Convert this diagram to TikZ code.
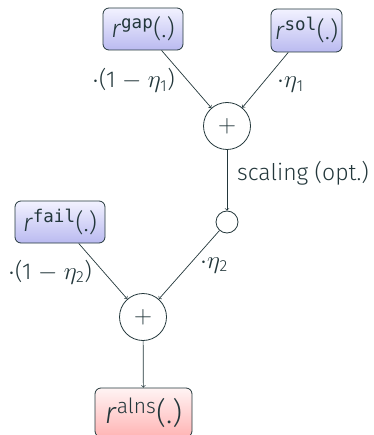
\documentclass[tikz,border=0pt]{standalone}
\usepackage{fontspec}
\setmainfont{Fira Sans Light}[ItalicFont={Fira Sans Light Italic}]
\newfontfamily\monof{DejaVu Sans Mono}
\definecolor{linec}{HTML}{23373B}
\definecolor{boxtop}{HTML}{F2F2FF}
\definecolor{boxbot}{HTML}{BABAF0}
\definecolor{pinktop}{HTML}{FFF4F4}
\definecolor{pinkbot}{HTML}{FFB4B4}
\tikzset{
  box/.style={draw=linec, rounded corners=6pt, line width=0.8pt, inner sep=0pt,
    text=linec, font=\fontsize{25}{29}\selectfont},
  bluebox/.style={box, top color=boxtop, bottom color=boxbot},
  pinkbox/.style={box, top color=pinktop, bottom color=pinkbot, font=\fontsize{30}{35}\selectfont},
  op/.style={circle, draw=linec, line width=0.8pt, inner sep=0pt, text=linec,
    font=\fontsize{23}{27}\selectfont},
  lbl/.style={inner sep=0pt, text=linec, font=\fontsize{23}{27}\selectfont, anchor=base west},
  arr/.style={->, draw=linec, line width=0.7pt}
}
\newcommand\etasub[1]{$\eta$\kern-0.5pt\textsubscript{#1}}
\begin{document}
\begin{tikzpicture}[x=1pt,y=1pt]
\useasboundingbox (0,0) rectangle (373,-435);
\node[bluebox, minimum width=80pt, minimum height=42pt] (gap) at (143,-29) {\textit{r}\textsuperscript{\monof gap}(.)};
\node[bluebox, minimum width=71pt, minimum height=43pt] (sol) at (306.5,-30.5) {\textit{r}\textsuperscript{\monof sol}(.)};
\node[bluebox, minimum width=90pt, minimum height=42pt] (fail) at (60,-222) {\textit{r}\textsuperscript{\monof fail}(.)};
\node[pinkbox, minimum width=97pt, minimum height=49pt] (alns) at (143.5,-412.5) {\textit{r}\textsuperscript{alns}(.)};
\node[op, minimum size=47pt] (plus1) at (227,-126) {$+$};
\node[op, minimum size=22pt] (small) at (227,-222) {};
\node[op, minimum size=47pt] (plus2) at (143,-317) {$+$};
\draw[arr] (gap) -- (plus1);
\draw[arr] (sol) -- (plus1);
\draw[arr] (plus1) -- (small);
\draw[arr] (small) -- (plus2);
\draw[arr] (fail) -- (plus2);
\draw[arr] (plus2) -- (alns);
\node[lbl] (l1) at (92,-88) {$\cdot$(1 $-$ \etasub{1})};
\node[lbl] (l2) at (277,-88) {$\cdot$\etasub{1}};
\node[lbl] (l3) at (237,-181) {scaling (opt.)};
\node[lbl] (l4) at (8,-279) {$\cdot$(1 $-$ \etasub{2})};
\node[lbl] (l5) at (200,-268) {$\cdot$\etasub{2}};
\end{tikzpicture}
\end{document}
